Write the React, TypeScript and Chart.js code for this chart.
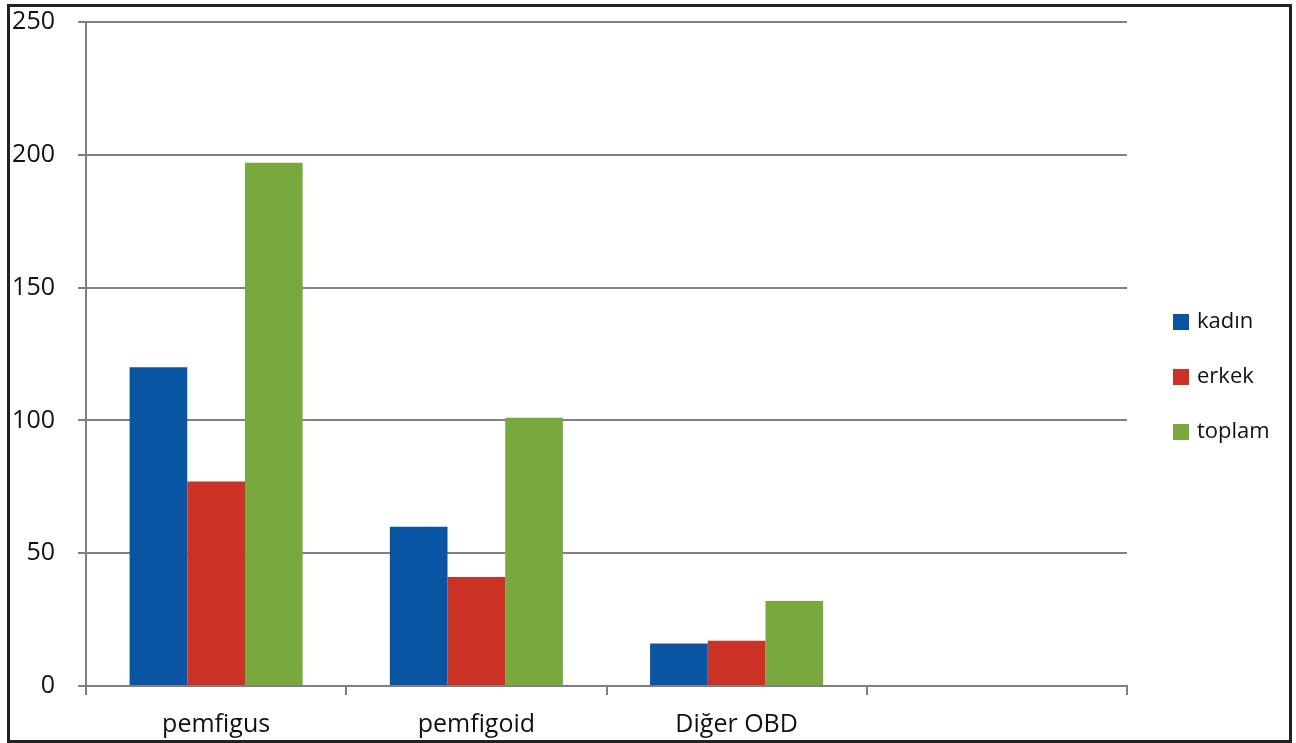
import React, { useEffect, useRef } from "react";
import { Chart, registerables } from "chart.js";

Chart.register(...registerables);

const categories = ["pemfigus", "pemfigoid", "Diğer OBD", ""];
const kadin = [120, 60, 16, null];
const erkek = [77, 41, 17, null];
const toplam = [197, 101, 32, null];
const seriesNames = ["kadın", "erkek", "toplam"];
const seriesColors = ["#0a54a4", "#cc3224", "#78a83e"];
const yTicks = [0, 50, 100, 150, 200, 250];

const FONT = "'Open Sans', 'DejaVu Sans', sans-serif";

const legendPlugin = {
  id: "customLegend",
  afterDraw(chart: any) {
    const { ctx, chartArea } = chart;
    ctx.save();
    ctx.font = `22px ${FONT}`;
    ctx.textBaseline = "middle";
    ctx.textAlign = "left";
    const x = chartArea.right + 46;
    const y0 = 315;
    chart.data.datasets.forEach((ds: any, i: number) => {
      const y = y0 + i * 55;
      ctx.fillStyle = ds.backgroundColor;
      ctx.fillRect(x, y - 8, 16, 16);
      ctx.fillStyle = "#111";
      ctx.fillText(ds.label, x + 24, y);
    });
    ctx.restore();
  },
};

export default function App() {
  const ref = useRef<HTMLCanvasElement | null>(null);
  useEffect(() => {
    if (!ref.current) return;
    const chart = new Chart(ref.current, {
      type: "bar",
      data: {
        labels: categories,
        datasets: [kadin, erkek, toplam].map((d, i) => ({
          label: seriesNames[i],
          data: d,
          backgroundColor: seriesColors[i],
          borderWidth: 0,
          categoryPercentage: 0.665,
          barPercentage: 1,
        })),
      },
      options: {
        animation: false,
        responsive: false,
        maintainAspectRatio: false,
        layout: { padding: { top: 15, right: 162, bottom: 0, left: 0 } },
        plugins: {
          legend: { display: false },
          tooltip: { enabled: false },
        },
        scales: {
          x: {
            grid: {
              offset: true,
              drawOnChartArea: false,
              drawTicks: true,
              tickLength: 9,
              color: "#808080",
              lineWidth: 2,
            },
            border: { color: "#808080", width: 2 },
            ticks: {
              color: "#111",
              font: { family: FONT, size: 25 },
              padding: 15,
              maxRotation: 0,
            },
            afterFit(scale: any) {
              scale.height = 54;
              scale.paddingLeft = 0;
              scale.paddingRight = 0;
            },
          },
          y: {
            min: 0,
            max: 250,
            afterBuildTicks(scale: any) {
              scale.ticks = yTicks.map((v) => ({ value: v }));
            },
            grid: {
              color: "#808080",
              lineWidth: 2,
              drawTicks: true,
              tickLength: 8,
            },
            border: { color: "#808080", width: 2 },
            ticks: {
              color: "#111",
              font: { family: FONT, size: 25 },
              padding: 23,
            },
            afterFit(scale: any) {
              scale.width = 76;
              scale.paddingTop = 0;
              scale.paddingBottom = 0;
            },
          },
        },
      },
      plugins: [legendPlugin],
    });
    return () => chart.destroy();
  }, []);

  return (
    <div
      style={{
        position: "fixed",
        left: 7,
        top: 4,
        width: 1279,
        height: 733,
        border: "3px solid #222",
        background: "#fff",
      }}
    >
      <canvas ref={ref} width={1279} height={733} style={{ display: "block" }} />
    </div>
  );
}
